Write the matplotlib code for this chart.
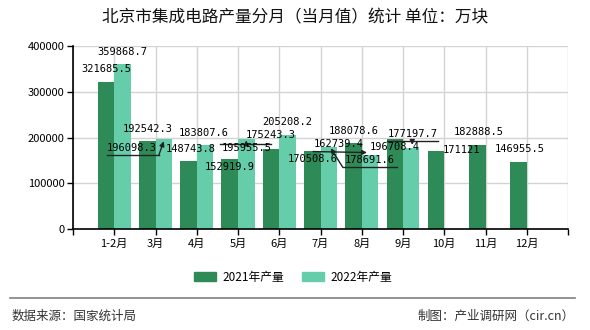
import numpy as np
import matplotlib
matplotlib.use('Agg')
import matplotlib.pyplot as plt
from matplotlib.patches import Patch

plt.rcParams['font.family'] = ['Noto Sans CJK SC', 'DejaVu Sans']

months = ['1-2月', '3月', '4月', '5月', '6月', '7月', '8月', '9月', '10月', '11月', '12月']
prod_2021 = [321685.5, 192542.3, 148743.8, 152919.9, 175243.3, 170508.6,
             188078.6, 196708.4, 171121, 182888.5, 146955.5]
prod_2022 = [359868.7, 196098.3, 183807.6, 195955.5, 205208.2, 178691.6,
             162739.4, 177197.7]

c21 = '#2e8b57'
c22 = '#66cdaa'

# label offsets from bar top, in pixels (dx right, dy up)
off21 = [(0, 13), (0, 12), (2, 12), (0, -8), (0, 14), (0, -8),
         (0, 12), (0, -8), (25, 1), (1, 13), (1, 13)]
off22 = [(0, 12), (-32, -9), (-1, 12), (0, -9), (0, 13), (41, -13),
         (-31, 11), (1, 14)]

fig = plt.figure(figsize=(5.9, 3.3), dpi=100)
ax = fig.add_axes([73/590, 101/330, 495/590, 183/330])

x = np.arange(1, len(months) + 1)
w = 0.4
ax.bar(x - w/2, prod_2021, w, color=c21, zorder=2)
ax.bar(x[:len(prod_2022)] + w/2, prod_2022, w, color=c22, zorder=2)

ax.set_xlim(0, 12)
ax.set_ylim(0, 400000)
ax.set_yticks([0, 100000, 200000, 300000, 400000])
ax.set_xticks(np.arange(0, 13))
ax.set_xticklabels([''] + months + [''])
ax.grid(True, color='#d3d3d3', lw=1, zorder=0)
for s in ['top', 'right']:
    ax.spines[s].set_visible(False)
ax.spines['left'].set_linewidth(1.2)
ax.spines['bottom'].set_linewidth(1.2)
ax.tick_params(axis='both', labelsize=8, length=4, width=1, pad=2)
ax.tick_params(axis='x', pad=3)


def px(xv, yv, dx, dy):
    bx, by = ax.transData.transform((xv, yv))
    return ax.transData.inverted().transform((bx + dx, by + dy))


def fmt(v):
    s = f'{v:.1f}'
    return s[:-2] if s.endswith('.0') else s


def label(xv, yv, dx, dy):
    tx, ty = px(xv, yv, dx, dy)
    ax.text(tx, ty, fmt(yv), ha='center', va='center', fontsize=7.5,
            family='DejaVu Sans Mono', zorder=4)


def leader(xv, yv, pts):
    p = np.array([px(xv, yv, a, b) for a, b in pts])
    ax.plot(p[:-1, 0], p[:-1, 1], color='#222222', lw=1, zorder=3)
    ax.annotate('', xy=p[-1], xytext=p[-2],
                arrowprops=dict(arrowstyle='-|>', color='#222222', lw=1,
                                mutation_scale=7, shrinkA=0, shrinkB=0),
                zorder=3)


for i, v in enumerate(prod_2021):
    label(x[i] - w/2, v, *off21[i])
for i, v in enumerate(prod_2022):
    label(x[i] + w/2, v, *off22[i])

# leader lines for shifted labels
leader(x[1] + w/2, prod_2022[1], [(-57, -16), (-5, -16), (0, -2)])
leader(x[3] + w/2, prod_2022[3], [(0, -5), (0, -1)])
ax.plot(*zip(px(x[3] + w/2, prod_2022[3], -26, -5), px(x[3] + w/2, prod_2022[3], 25, -5)),
        color='#222222', lw=1, zorder=3)
leader(x[5] + w/2, prod_2022[5], [(68, -20), (14, -20), (2, -1)])
leader(x[6] + w/2, prod_2022[6], [(-57, 3), (-3, 2)])
leader(x[7] + w/2, prod_2022[7], [(1, 7), (1, 3)])
ax.plot(*zip(px(x[7] + w/2, prod_2022[7], -24, 7), px(x[7] + w/2, prod_2022[7], 27, 7)),
        color='#222222', lw=1, zorder=3)

fig.text(295/590, 1 - 18/330, '北京市集成电路产量分月（当月值）统计 单位：万块',
         ha='center', va='center', fontsize=12, color='#111111')

handles = [Patch(color=c21, label='2021年产量'), Patch(color=c22, label='2022年产量')]
fig.legend(handles=handles, loc='center', bbox_to_anchor=(293/590, 1 - 277/330),
           ncol=2, frameon=False, fontsize=8.5, handlelength=1.9, handleheight=0.7,
           handletextpad=0.5, columnspacing=1.5)

fig.add_artist(plt.Line2D([10/590, 575/590], [1 - 298/330, 1 - 298/330],
                          color='#808080', lw=1.2))
fig.text(12/590, 1 - 316/330, '数据来源：国家统计局', ha='left', va='center',
         fontsize=9, color='#333333')
fig.text(575/590, 1 - 316/330, '制图：产业调研网（cir.cn）', ha='right', va='center',
         fontsize=9, color='#333333')

fig.savefig('out.png', dpi=100)
